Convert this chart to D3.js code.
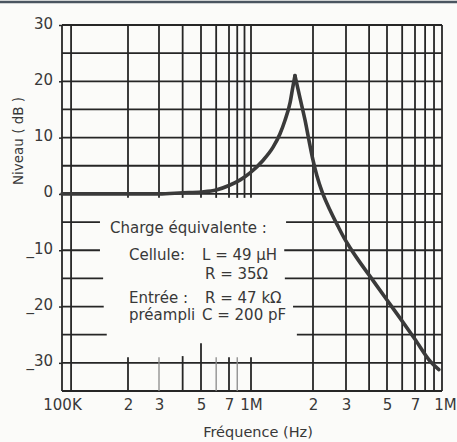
<!DOCTYPE html>
<html>
<head>
<meta charset="utf-8">
<script src="https://cdn.jsdelivr.net/npm/d3@7"></script>
<style>
  html, body { margin: 0; padding: 0; background: #fbfbf9; }
  svg { display: block; }
  text { font-family: "DejaVu Sans", sans-serif; fill: #383838; }
</style>
</head>
<body>
<svg id="chart" width="457" height="442"></svg>
<script>
// ---------- DATA ----------
const freqs = [1e5, 2e5, 3e5, 4e5, 5e5, 6e5, 7e5, 8.4e5, 9.8e5, 1.14e6, 1.28e6, 1.38e6, 1.46e6, 1.55e6, 1.6e6,
               1.635e6,
               1.73e6, 1.83e6, 1.91e6, 2e6, 2.1e6, 2.23e6, 2.46e6, 2.72e6, 2.93e6, 3.15e6, 3.44e6, 4.05e6, 5e6, 5.85e6, 7e6, 8.6e6, 9.6e6];
const levels = [0, 0, 0, 0.2, 0.35, 0.7, 1.5, 2.5, 3.7, 5.9, 8.3, 10.6, 13.0, 16.3, 19.2,
                21,
                17.0, 13.1, 9.6, 6.0, 3.2, 0.5, -2.8, -5.75, -7.8, -9.5, -11.4, -14.65, -18.85, -22.05, -25.8, -29.8, -31.2];

const xTickValues = [1e5, 2e5, 3e5, 5e5, 7e5, 1e6, 2e6, 3e6, 5e6, 7e6, 1e7];
const xTickLabels = ["100K", "2", "3", "5", "7", "1M", "2", "3", "5", "7", "1M"];
const yTickValues = [30, 20, 10, 0, -10, -20, -30];
const yTickLabels = ["30", "20", "10", "0", "_10", "_20", "_30"];

const xTitle = "Fréquence (Hz)";
const yTitle = "Niveau ( dB )";
const noteLines = ["Charge  équivalente  :", "Cellule:", "L = 49 µH", "R = 35Ω", "Entrée :", "R = 47 kΩ", "préampli", "C = 200 pF"];

// grid definitions (data units)
const upperDecadeGrid = [2e5, 3e5, 4e5, 5e5, 6e5, 7e5, 8e5, 9e5, 1e6];   // stop at 0 dB
const fullVerticalGrid = [1e5, 1.1e5, 2e6, 3e6, 4e6, 5e6, 6e6, 7e6, 8e6, 9e6, 1e7];
const fullHorizontalGrid = [30, 25, 20, 15, 10, 5, 0, -30, -35];
const gapHorizontalGrid = [-5, -10, -15, -20, -25];
const gapLeftEnd = [1.49e5, 1.49e5, 1.54e5, 1.55e5, 1.6e5];
const gapRightStart = [1.48e6, 1.45e6, 1.46e6, 1.6e6, 1.67e6];
const bottomTickFreqs = [2e5, 3e5, 4e5, 5e5, 6e5, 7e5, 8e5, 1e6];
const bottomTickTop = [-29, -29, -28.8, -26.5, -29, -29, -29, -29];
const bottomTickLight = [false, true, false, false, true, false, true, false];

// ---------- LAYOUT ----------
const xAnchorPx = [62, 128, 159, 201, 229, 251, 313, 346, 387, 415, 442];
const x = d3.scaleLog().domain(xTickValues).range(xAnchorPx);
const y = d3.scaleLinear().domain([-35, 30]).range([391, 25]);

const svg = d3.select("#chart");
const gridColor = "#262626";
const font = '"DejaVu Sans", sans-serif';

// top scan border
svg.append("line").attr("x1", 0).attr("x2", 457).attr("y1", 2).attr("y2", 2)
  .attr("stroke", "#4a5560").attr("stroke-width", 2.5);

const grid = svg.append("g").attr("stroke", gridColor).attr("stroke-width", 1.8).attr("fill", "none");

// horizontal full lines
grid.selectAll("line.hf").data(fullHorizontalGrid).join("line")
  .attr("x1", x(1e5)).attr("x2", x(1e7))
  .attr("y1", d => y(d)).attr("y2", d => y(d));

// horizontal lines interrupted by the note
gapHorizontalGrid.forEach((d, i) => {
  grid.append("line").attr("x1", x(1e5)).attr("x2", x(gapLeftEnd[i])).attr("y1", y(d)).attr("y2", y(d));
  grid.append("line").attr("x1", x(gapRightStart[i])).attr("x2", x(1e7)).attr("y1", y(d)).attr("y2", y(d));
});

// vertical full lines
grid.selectAll("line.vf").data(fullVerticalGrid).join("line")
  .attr("x1", d => x(d)).attr("x2", d => x(d))
  .attr("y1", y(30)).attr("y2", y(-35));

// vertical lines of the first decade, upper part
grid.selectAll("line.vu").data(upperDecadeGrid).join("line")
  .attr("x1", d => x(d)).attr("x2", d => x(d))
  .attr("y1", y(30)).attr("y2", y(-0.7));

// vertical lines of the first decade, bottom stubs
bottomTickFreqs.forEach((f, i) => {
  grid.append("line").attr("x1", x(f)).attr("x2", x(f))
    .attr("y1", y(bottomTickTop[i])).attr("y2", y(-35))
    .attr("stroke", bottomTickLight[i] ? "#8a8a8a" : gridColor)
    .attr("stroke-width", bottomTickLight[i] ? 1.3 : 1.8);
});

// ---------- AXES ----------
const xAxis = d3.axisBottom(x).tickValues(xTickValues)
  .tickFormat((d, i) => xTickLabels[i]).tickSize(0).tickPadding(8);
const gx = svg.append("g").attr("transform", `translate(0,${y(-35)})`).call(xAxis);
gx.select(".domain").remove();
gx.selectAll("text").attr("font-size", 15).attr("fill", "#383838").style("font-family", font);
gx.selectAll(".tick").filter((d, i) => i === xTickValues.length - 1).select("text").attr("dx", 3);

const yAxis = d3.axisLeft(y).tickValues(yTickValues)
  .tickFormat((d, i) => yTickLabels[i]).tickSize(3).tickPadding(6);
const gy = svg.append("g").attr("transform", `translate(${x(1e5)},0)`).call(yAxis);
gy.select(".domain").remove();
gy.selectAll(".tick line").attr("stroke", gridColor).attr("stroke-width", 1.5);
gy.selectAll("text").attr("font-size", 15).attr("dy", "0.2em").attr("fill", "#383838").style("font-family", font);

// titles
svg.append("text").attr("x", 258).attr("y", 437).attr("text-anchor", "middle")
  .attr("font-size", 14.5).text(xTitle);
svg.append("text").attr("transform", "translate(23,141) rotate(-90)").attr("text-anchor", "middle")
  .attr("font-size", 13.5).text(yTitle);

// ---------- NOTE ----------
const notePos = [[110, 233], [129, 260], [202, 260], [205, 279], [129, 303], [205, 303], [129, 320], [202, 320]];
svg.append("g").selectAll("text").data(noteLines).join("text")
  .attr("x", (d, i) => notePos[i][0]).attr("y", (d, i) => notePos[i][1])
  .attr("font-size", 15).text(d => d);

// ---------- CURVE ----------
const peakIndex = levels.indexOf(d3.max(levels));
const pts = freqs.map((f, i) => [f, levels[i]]);
const line = d3.line().x(d => x(d[0])).y(d => y(d[1])).curve(d3.curveMonotoneX);
[pts.slice(0, peakIndex + 1), pts.slice(peakIndex)].forEach(seg => {
  svg.append("path").attr("d", line(seg)).attr("fill", "none")
    .attr("stroke", "#3a3a3a").attr("stroke-width", 3.6)
    .attr("stroke-linejoin", "round").attr("stroke-linecap", "round");
});
</script>
</body>
</html>
